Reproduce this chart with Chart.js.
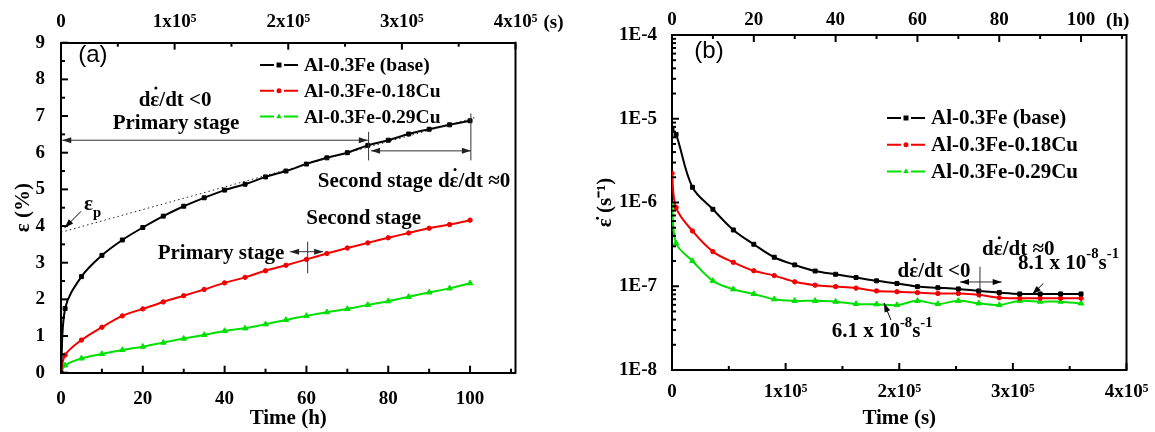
<!DOCTYPE html>
<html>
<head>
<meta charset="utf-8">
<script src="https://cdn.jsdelivr.net/npm/chart.js@4.4.1/dist/chart.umd.min.js"></script>
<style>
  html, body { margin: 0; padding: 0; background: #fff; }
  #wrap { position: relative; width: 1155px; height: 432px; }
  #wrap canvas { position: absolute; top: 0; }
  #creep { left: 0; }
  #rate { left: 577px; }
</style>
</head>
<body>
<div id="wrap">
  <canvas id="creep" width="577" height="432"></canvas>
  <canvas id="rate" width="578" height="432"></canvas>
</div>
<script>
// creep strain (%) against time (h)
var hours = [0, 1, 5, 10, 15, 20, 25, 30, 35, 40, 45, 50, 55, 60, 65, 70, 75, 80, 85, 90, 95, 100];
var strainBase = [0, 1.75, 2.62, 3.2, 3.62, 3.96, 4.27, 4.54, 4.77, 4.98, 5.14, 5.34, 5.5, 5.69, 5.86, 6.0, 6.2, 6.34, 6.51, 6.64, 6.76, 6.87];
var strainCu18 = [0, 0.48, 0.89, 1.24, 1.55, 1.74, 1.93, 2.1, 2.27, 2.45, 2.6, 2.78, 2.93, 3.09, 3.25, 3.4, 3.54, 3.68, 3.81, 3.94, 4.04, 4.16];
var strainCu29 = [0, 0.2, 0.39, 0.51, 0.62, 0.71, 0.82, 0.93, 1.03, 1.14, 1.21, 1.32, 1.44, 1.55, 1.65, 1.74, 1.85, 1.95, 2.07, 2.19, 2.3, 2.44];

// creep rate (1/s) against time (s)
var seconds = [0, 3600, 18000, 36000, 54000, 72000, 90000, 108000, 126000, 144000, 162000, 180000, 198000, 216000, 234000, 252000, 270000, 288000, 306000, 324000, 342000, 360000];
var rateBase = [7.4e-6, 6.5e-6, 1.52e-6, 8.3e-7, 4.7e-7, 3.17e-7, 2.22e-7, 1.8e-7, 1.52e-7, 1.39e-7, 1.27e-7, 1.16e-7, 1.08e-7, 9.9e-8, 9.6e-8, 9.3e-8, 8.8e-8, 8.4e-8, 8.1e-8, 8.1e-8, 8.1e-8, 8.1e-8];
var rateCu18 = [2.23e-6, 8.7e-7, 4.57e-7, 2.59e-7, 1.93e-7, 1.53e-7, 1.34e-7, 1.13e-7, 1.03e-7, 9.9e-8, 9.5e-8, 8.8e-8, 8.6e-8, 8.4e-8, 8.2e-8, 8.2e-8, 7.9e-8, 7.3e-8, 7.2e-8, 7.2e-8, 7.2e-8, 7.2e-8];
var rateCu29 = [9.3e-7, 3.26e-7, 2.0e-7, 1.16e-7, 9.2e-8, 8.1e-8, 7.0e-8, 6.7e-8, 6.7e-8, 6.55e-8, 6.15e-8, 6.1e-8, 5.97e-8, 6.7e-8, 6.15e-8, 6.7e-8, 6.25e-8, 5.97e-8, 6.7e-8, 6.55e-8, 6.55e-8, 6.25e-8];

var alloys = ['Al-0.3Fe (base)', 'Al-0.3Fe-0.18Cu', 'Al-0.3Fe-0.29Cu'];
var colors = ['#000000', '#f20000', '#00e000'];
var markers = ['rect', 'circle', 'triangle'];

// tick labels
var hourLabels = [0, 20, 40, 60, 80, 100];
var strainLabels = [0, 1, 2, 3, 4, 5, 6, 7, 8, 9];
var secLabels = ['0', '1x10\u2075', '2x10\u2075', '3x10\u2075', '4x10\u2075'];
var rateLabels = ['1E-8', '1E-7', '1E-6', '1E-5', '1E-4'];

var S_MAX = 400000;
var H_MAX = S_MAX / 3600;

var SERIF = 'Liberation Serif';
var tickFont = { family: SERIF, weight: 'bold', size: 19 };
var titleFont = { family: SERIF, weight: 'bold', size: 21 };

function steps(from, to, step) {
    var out = [];
    for (var i = 0; from + i * step <= to + 1e-9; i++) out.push(from + i * step);
    return out;
}

function logSteps(e0, e1) {
    var out = [];
    for (var e = e0; e < e1; e++) {
        for (var m = 1; m <= 9; m++) out.push(m * Math.pow(10, e));
    }
    out.push(Math.pow(10, e1));
    return out;
}

function hourLabel(v) { return hourLabels.indexOf(v) >= 0 ? String(v) : ''; }
function strainLabel(v) { return strainLabels.indexOf(v) >= 0 ? String(v) : ''; }
function secLabel(v) { var k = v / 100000; return Number.isInteger(k) ? secLabels[k] : ''; }
function rateLabel(v) {
    var e = Math.log10(v), r = Math.round(e);
    return Math.abs(e - r) < 1e-6 ? rateLabels[r + 8] : '';
}

function makeAxis(type, pos, min, max, values, label, size, pad, title) {
    var s = {
        type: type, position: pos, min: min, max: max,
        grid: { display: false },
        border: { color: '#000', width: 2 },
        ticks: { color: '#000', font: tickFont, autoSkip: false, maxRotation: 0, padding: pad, callback: label },
        afterBuildTicks: function (sc) {
            sc.ticks = values.map(function (v) { return { value: v }; });
        },
        afterFit: function (sc) {
            if (pos === 'left') sc.width = size; else sc.height = size;
        }
    };
    if (title) {
        s.title = { display: true, text: title.text, color: '#000', font: titleFont, padding: title.padding };
    }
    return s;
}

function series(i, xs, ys) {
    return {
        label: alloys[i],
        data: xs.map(function (x, k) { return { x: x, y: ys[k] }; }),
        borderColor: colors[i],
        backgroundColor: colors[i],
        borderWidth: 2,
        pointStyle: markers[i],
        pointRadius: [2.8, 2.2, 3.2][i],
        pointBorderWidth: 1,
        tension: 0.35,
        xAxisID: 'x',
        yAxisID: 'y'
    };
}

// ---- drawing helpers ----
function drawMarker(ctx, style, x, y, r, color) {
    ctx.fillStyle = color;
    ctx.beginPath();
    if (style === 'rect') {
        var h = r * Math.SQRT1_2 + 0.5;
        ctx.rect(x - h, y - h, 2 * h, 2 * h);
    } else if (style === 'triangle') {
        ctx.moveTo(x, y - r);
        ctx.lineTo(x + r * 0.87, y + r * 0.5);
        ctx.lineTo(x - r * 0.87, y + r * 0.5);
        ctx.closePath();
    } else {
        ctx.arc(x, y, r + 0.3, 0, Math.PI * 2);
    }
    ctx.fill();
}

function drawLegend(chart, x0, y0, dy, size) {
    var ctx = chart.ctx, a = chart.chartArea;
    ctx.save();
    chart.data.datasets.forEach(function (ds, i) {
        var x = a.left + x0, y = a.top + y0 + i * dy;
        ctx.strokeStyle = ds.borderColor;
        ctx.lineWidth = 2;
        ctx.beginPath();
        ctx.moveTo(x, y); ctx.lineTo(x + 14, y);
        ctx.moveTo(x + 24, y); ctx.lineTo(x + 38, y);
        ctx.stroke();
        drawMarker(ctx, ds.pointStyle, x + 19, y, ds.pointRadius, ds.borderColor);
        ctx.fillStyle = '#000';
        ctx.font = 'bold ' + size + 'px "' + SERIF + '"';
        ctx.textAlign = 'left';
        ctx.textBaseline = 'middle';
        ctx.fillText(ds.label, x + 44, y + 1);
    });
    ctx.restore();
}

// text pieces: [string, 0 normal | 1 superscript | -1 subscript]
function richText(ctx, parts, x, y, size, align) {
    var widths = parts.map(function (p) {
        ctx.font = 'bold ' + (p[1] ? size * 0.7 : size) + 'px "' + SERIF + '"';
        return ctx.measureText(p[0]).width;
    });
    var total = widths.reduce(function (s, w) { return s + w; }, 0);
    var cx = align === 'center' ? x - total / 2 : x;
    ctx.textAlign = 'left';
    ctx.textBaseline = 'middle';
    ctx.fillStyle = '#000';
    parts.forEach(function (p, i) {
        ctx.font = 'bold ' + (p[1] ? size * 0.7 : size) + 'px "' + SERIF + '"';
        var dy = p[1] === 1 ? -size * 0.42 : (p[1] === -1 ? size * 0.38 : 0);
        ctx.fillText(p[0], cx, y + dy);
        cx += widths[i];
    });
}

// centred text with a rate dot over the epsilon
function dotText(ctx, text, x, y, size) {
    ctx.font = 'bold ' + size + 'px "' + SERIF + '"';
    ctx.textAlign = 'left';
    ctx.textBaseline = 'middle';
    ctx.fillStyle = '#000';
    var w = ctx.measureText(text).width;
    var left = x - w / 2;
    ctx.fillText(text, left, y);
    var k = text.indexOf('\u03b5');
    if (k >= 0) {
        var pre = ctx.measureText(text.slice(0, k)).width;
        var ew = ctx.measureText('\u03b5').width;
        ctx.beginPath();
        ctx.arc(left + pre + ew / 2 + 1, y - size * 0.58, 1.5, 0, Math.PI * 2);
        ctx.fill();
    }
}

function arrowHead(ctx, x1, y1, x2, y2) {
    var ang = Math.atan2(y2 - y1, x2 - x1), L = 9, W = 3;
    ctx.beginPath();
    ctx.moveTo(x2, y2);
    ctx.lineTo(x2 - L * Math.cos(ang) + W * Math.sin(ang), y2 - L * Math.sin(ang) - W * Math.cos(ang));
    ctx.lineTo(x2 - L * Math.cos(ang) - W * Math.sin(ang), y2 - L * Math.sin(ang) + W * Math.cos(ang));
    ctx.closePath();
    ctx.fill();
}

function arrow(ctx, p, q, both) {
    ctx.beginPath();
    ctx.moveTo(p[0], p[1]);
    ctx.lineTo(q[0], q[1]);
    ctx.stroke();
    arrowHead(ctx, p[0], p[1], q[0], q[1]);
    if (both) arrowHead(ctx, q[0], q[1], p[0], p[1]);
}

function segment(ctx, p, q) {
    ctx.beginPath();
    ctx.moveTo(p[0], p[1]);
    ctx.lineTo(q[0], q[1]);
    ctx.stroke();
}

// inward tick marks on every axis plus the right-hand edge of the frame
var frame = {
    id: 'frame',
    afterDraw: function (chart) {
        var ctx = chart.ctx, a = chart.chartArea;
        ctx.save();
        ctx.strokeStyle = '#000';
        ctx.lineWidth = 2;
        segment(ctx, [a.right, a.top - 1], [a.right, a.bottom + 1]);
        Object.keys(chart.scales).forEach(function (id) {
            var s = chart.scales[id];
            s.ticks.forEach(function (t) {
                var len = t.label ? 7 : 4;
                var p = s.getPixelForValue(t.value);
                if (s.position === 'bottom') segment(ctx, [p, a.bottom], [p, a.bottom - len]);
                else if (s.position === 'top') segment(ctx, [p, a.top], [p, a.top + len]);
                else if (s.position === 'left') segment(ctx, [a.left, p], [a.left + len, p]);
            });
        });
        ctx.restore();
    }
};

// ---- panel (a): strain ----
var notesA = {
    id: 'notesA',
    afterDraw: function (chart) {
        var ctx = chart.ctx, X = chart.scales.x, Y = chart.scales.y, T = chart.scales.xs, a = chart.chartArea;
        function P(h, v) { return [X.getPixelForValue(h), Y.getPixelForValue(v)]; }
        ctx.save();
        drawLegend(chart, 199, 22.3, 25.8, 19.5);

        ctx.fillStyle = '#000';
        ctx.font = 'bold 19px "' + SERIF + '"';
        ctx.textAlign = 'left';
        ctx.textBaseline = 'middle';
        ctx.fillText('(s)', T.getPixelForValue(S_MAX) + 28, a.top - 20);

        var p = P(7.8, 8.66);
        ctx.font = '24px "Liberation Sans"';
        ctx.textAlign = 'center';
        ctx.fillText('(a)', p[0], p[1]);

        p = P(27.9, 7.43); dotText(ctx, 'd\u03b5/dt <0', p[0], p[1], 21);
        p = P(28.1, 6.8); dotText(ctx, 'Primary stage', p[0], p[1], 21);
        p = P(86.3, 5.21); dotText(ctx, 'Second stage d\u03b5/dt \u22480', p[0], p[1], 21);
        p = P(74, 4.19); dotText(ctx, 'Second stage', p[0], p[1], 21);
        p = P(39.1, 3.26); dotText(ctx, 'Primary stage', p[0], p[1], 21);
        p = P(5.6, 4.58);
        richText(ctx, [['\u03b5', 0], ['p', -1]], p[0], p[1], 21, 'left');

        ctx.strokeStyle = '#333';
        ctx.fillStyle = '#222';
        ctx.lineWidth = 1;
        arrow(ctx, P(75, 6.34), P(0.3, 6.34), true);
        arrow(ctx, P(75.8, 6.05), P(100.2, 6.05), true);
        segment(ctx, P(75.2, 6.57), P(75.2, 5.79));
        segment(ctx, P(100.2, 7.07), P(100.2, 5.79));
        arrow(ctx, P(56, 3.3), P(64.1, 3.3), true);
        segment(ctx, P(60.3, 3.57), P(60.3, 2.71));
        ctx.strokeStyle = '#000';
        ctx.fillStyle = '#000';
        arrow(ctx, P(4.9, 4.4), P(0.9, 3.95), false);

        ctx.strokeStyle = '#222';
        ctx.setLineDash([1.5, 3]);
        segment(ctx, P(0, 3.83), P(101.6, 6.97));
        ctx.restore();
    }
};

new Chart(document.getElementById('creep').getContext('2d'), {
    type: 'line',
    data: {
        datasets: [
            series(0, hours, strainBase),
            series(1, hours, strainCu18),
            series(2, hours, strainCu29)
        ]
    },
    options: {
        responsive: false,
        animation: false,
        layout: { padding: { right: 61.5 } },
        scales: {
            x: makeAxis('linear', 'bottom', 0, H_MAX, steps(0, 110, 10), hourLabel, 59.3, 7,
                { text: 'Time (h)', padding: { top: 0, bottom: 1 } }),
            xs: makeAxis('linear', 'top', 0, S_MAX, steps(0, S_MAX, 50000), secLabel, 42.7, 1.5),
            y: makeAxis('linear', 'left', 0, 9, steps(0, 9, 0.5), strainLabel, 61, 8,
                { text: '\u03b5 (%)', padding: { top: 11, bottom: 0 } })
        },
        plugins: {
            legend: { display: false },
            tooltip: { enabled: false }
        }
    },
    plugins: [frame, notesA]
});

// ---- panel (b): creep rate ----
var notesB = {
    id: 'notesB',
    afterDraw: function (chart) {
        var ctx = chart.ctx, X = chart.scales.x, Y = chart.scales.y, T = chart.scales.xh, a = chart.chartArea;
        function P(s, r) { return [X.getPixelForValue(s), Y.getPixelForValue(r)]; }
        ctx.save();
        drawLegend(chart, 215, 83, 26.7, 21);

        ctx.fillStyle = '#000';
        ctx.font = 'bold 19px "' + SERIF + '"';
        ctx.textAlign = 'left';
        ctx.textBaseline = 'middle';
        ctx.fillText('(h)', T.getPixelForValue(100) + 25, a.top - 14);

        var p = P(32560, 6.35e-5);
        ctx.font = '24px "Liberation Sans"';
        ctx.textAlign = 'center';
        ctx.fillText('(b)', p[0], p[1]);

        p = P(304750, 2.71e-7); dotText(ctx, 'd\u03b5/dt \u22480', p[0], p[1], 21);
        p = P(230570, 1.49e-7); dotText(ctx, 'd\u03b5/dt <0', p[0], p[1], 21);
        p = P(304580, 1.88e-7);
        richText(ctx, [['8.1 x 10', 0], ['-8', 1], ['s', 0], ['-1', 1]], p[0], p[1], 21, 'left');
        p = P(140540, 2.85e-8);
        richText(ctx, [['6.1 x 10', 0], ['-8', 1], ['s', 0], ['-1', 1]], p[0], p[1], 21, 'left');

        ctx.strokeStyle = '#000';
        ctx.fillStyle = '#000';
        ctx.lineWidth = 1;
        arrow(ctx, P(192720, 3.95e-8), P(186560, 6.3e-8), false);
        arrow(ctx, P(326760, 1.08e-7), P(317080, 8.0e-8), false);
        ctx.strokeStyle = '#333';
        arrow(ctx, P(253450, 1.125e-7), P(290150, 1.125e-7), true);
        segment(ctx, P(271050, 1.71e-7), P(271050, 7.24e-8));
        ctx.restore();
    }
};

new Chart(document.getElementById('rate').getContext('2d'), {
    type: 'line',
    data: {
        datasets: [
            series(0, seconds, rateBase),
            series(1, seconds, rateCu18),
            series(2, seconds, rateCu29)
        ]
    },
    options: {
        responsive: false,
        animation: false,
        layout: { padding: { right: 28.5 } },
        scales: {
            x: makeAxis('linear', 'bottom', 0, S_MAX, steps(0, S_MAX, 50000), secLabel, 62, 2.5,
                { text: 'Time (s)', padding: { top: 0, bottom: 1 } }),
            xh: makeAxis('linear', 'top', 0, H_MAX, steps(0, 110, 10), hourLabel, 35, -4),
            y: makeAxis('logarithmic', 'left', 1e-8, 1e-4, logSteps(-8, -4), rateLabel, 95, 7,
                { text: '\u03b5\u0307 (s\u207b\u00b9)', padding: { top: 16, bottom: 0 } })
        },
        plugins: {
            legend: { display: false },
            tooltip: { enabled: false }
        }
    },
    plugins: [frame, notesB]
});
</script>
</body>
</html>
